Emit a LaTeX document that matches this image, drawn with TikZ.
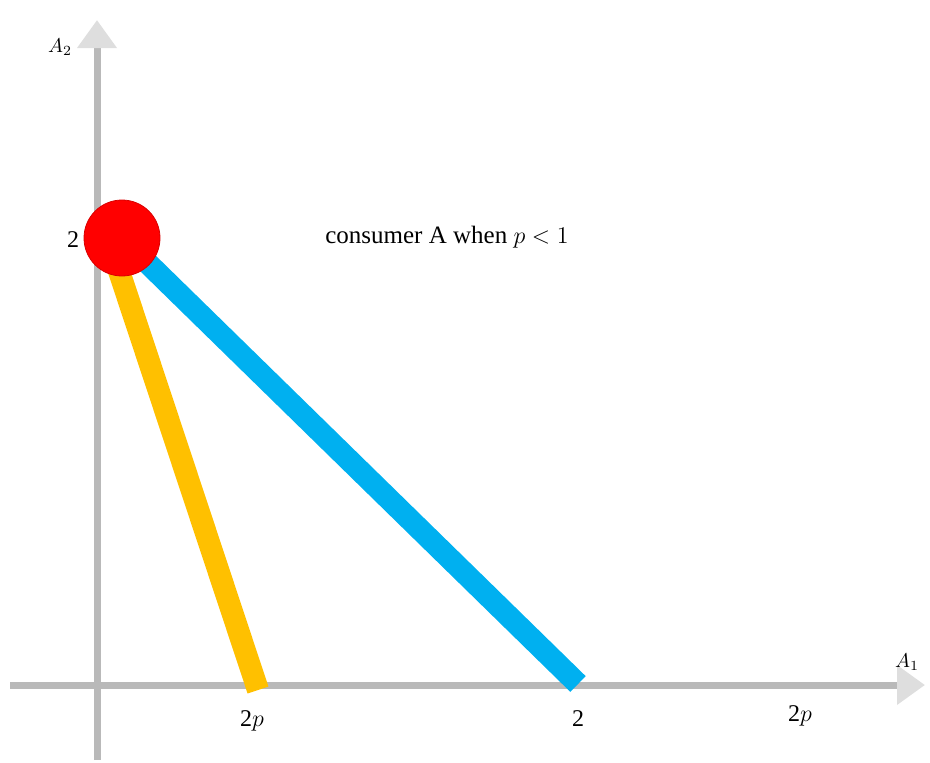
\documentclass[tikz,border=0pt]{standalone}
\usepackage{fontspec}
\setmainfont{Liberation Serif}
\usetikzlibrary{arrows.meta}
\definecolor{axisgray}{RGB}{185,185,185}
\definecolor{tipgray}{RGB}{222,222,222}
\definecolor{budgetblue}{RGB}{0,176,240}
\definecolor{budgetorange}{RGB}{255,192,0}
\tikzset{
  axis/.style={line width=3.5pt, axisgray, -{Triangle[width=19pt,length=14pt,fill=tipgray,color=tipgray]}},
  budget/.style={line width=11pt},
  lbl/.style={font=\fontsize{12}{14}\selectfont, inner sep=1pt}
}
\begin{document}
\begin{tikzpicture}[x=0.5pt, y=-0.5pt]
    \useasboundingbox (0,0) rectangle (930,762);
    \coordinate (O) at (97,685);
    \coordinate (xend) at (925,685);
    \coordinate (yend) at (97,20);
    \coordinate (xstart) at (10,685);
    \coordinate (ystart) at (97,760);
    \draw[axis] (xstart) -- (xend);
    \draw[axis] (ystart) -- (yend);
    \coordinate (endow) at (122,238);
    \coordinate (blueend) at (578,684);
    \coordinate (orangeend) at (258,690);
    \draw[budget, budgetorange] (112,250) -- (orangeend);
    \draw[budget, budgetblue] (endow) -- (blueend);
    \node[circle, fill=red, draw=red!85!black, line width=0.4pt, minimum size=38pt, inner sep=0pt] (dot) at (endow) {};
    \node[lbl] (ytwo) at (73,240) {2};
    \node[lbl] (xtwop) at (252,721) {2$p$};
    \node[lbl] (xtwo) at (578,719) {2};
    \node[lbl] (xfar) at (800,716) {2$p$};
    \node[font=\fontsize{10}{12}\selectfont] (ylab) at (60,47) {$A_2$};
    \node[font=\fontsize{10}{12}\selectfont] (xlab) at (907,662) {$A_1$};
    \node[font=\fontsize{12.5}{15}\selectfont] (title) at (447,237) {consumer A when $p<1$};
\end{tikzpicture}
\end{document}
